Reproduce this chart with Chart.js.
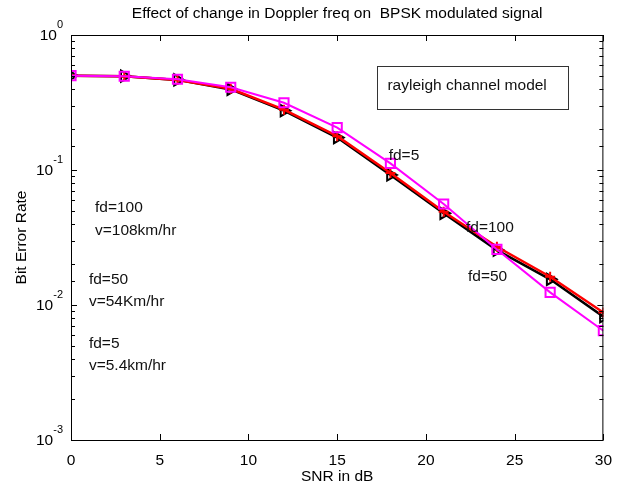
<!DOCTYPE html>
<html>
<head>
<meta charset="utf-8">
<script src="https://cdn.jsdelivr.net/npm/chart.js@4.4.1/dist/chart.umd.min.js"></script>
<style>
  html, body { margin: 0; padding: 0; background: #fff; }
  #wrap { width: 623px; height: 487px; position: relative; }
</style>
</head>
<body>
<div id="wrap"><canvas id="c" width="623" height="487"></canvas></div>
<script>
// ---- data ----
const snrDb = [0, 3, 6, 9, 12, 15, 18, 21, 24, 27, 30];
const berFd5   = [0.50, 0.495, 0.47, 0.41, 0.315, 0.206, 0.112, 0.056, 0.0258, 0.0124, 0.00645];
const berFd100 = [0.50, 0.495, 0.465, 0.40, 0.280, 0.178, 0.095, 0.049, 0.0270, 0.0162, 0.0088];
const berFd50  = [0.50, 0.495, 0.465, 0.395, 0.275, 0.174, 0.092, 0.0478, 0.0255, 0.0155, 0.0082];
const xTicks = [0, 5, 10, 15, 20, 25, 30];
const yDecades = [-3, -2, -1, 0];
const titleText = 'Effect of change in Doppler freq on  BPSK modulated signal';
const xTitle = 'SNR in dB';
const yTitle = 'Bit Error Rate';
const notes = [
  { text: 'fd=5',        x: 17.9,  y: 0.127 },
  { text: 'fd=100',      x: 22.26, y: 0.0372 },
  { text: 'fd=50',       x: 22.37, y: 0.0161 },
  { text: 'fd=100',      x: 1.35,  y: 0.0523 },
  { text: 'v=108km/hr',  x: 1.35,  y: 0.0353 },
  { text: 'fd=50',       x: 1.01,  y: 0.0153 },
  { text: 'v=54Km/hr',   x: 1.01,  y: 0.01052 },
  { text: 'fd=5',        x: 1.01,  y: 0.00514 },
  { text: 'v=5.4km/hr',  x: 1.01,  y: 0.00353 }
];
const boxNote = { text: 'rayleigh channel model', x0: 17.27, x1: 28.04, y0: 0.589, y1: 0.283, tx: 17.83, ty: 0.419 };

const pts = arr => snrDb.map((x, i) => ({ x: x, y: arr[i] }));
const FONT = '"Liberation Sans", Arial, sans-serif';
const FS = 15.5;

const decor = {
  id: 'decor',
  afterDraw(chart) {
    const ctx = chart.ctx, a = chart.chartArea;
    const xs = chart.scales.x, ys = chart.scales.y;
    ctx.save();
    // box
    ctx.strokeStyle = '#000'; ctx.lineWidth = 1;
    ctx.strokeRect(a.left + 0.5, a.top + 0.5, a.right - a.left - 1, a.bottom - a.top);
    // x ticks inward
    ctx.beginPath();
    xTicks.forEach(v => {
      const px = Math.round(xs.getPixelForValue(v)) + 0.5;
      ctx.moveTo(px, a.bottom); ctx.lineTo(px, a.bottom - 6);
      ctx.moveTo(px, a.top); ctx.lineTo(px, a.top + 6);
    });
    // y ticks inward (library ticks)
    ys.ticks.forEach(t => {
      const py = Math.round(ys.getPixelForValue(t.value)) + 0.5;
      const lg = Math.log10(t.value);
      const len = Math.abs(lg - Math.round(lg)) < 1e-6 ? 6 : 4;
      ctx.moveTo(a.left, py); ctx.lineTo(a.left + len, py);
      ctx.moveTo(a.right, py); ctx.lineTo(a.right - len, py);
    });
    ctx.stroke();
    // y labels 10^n
    ctx.fillStyle = '#000';
    yDecades.forEach(d => {
      const py = ys.getPixelForValue(Math.pow(10, d));
      const exp = String(d);
      ctx.font = '11px ' + FONT;
      ctx.textBaseline = 'middle';
      const ew = ctx.measureText(exp).width;
      ctx.textAlign = 'left';
      ctx.fillText(exp, a.left - 8 - ew, py - 10);
      ctx.font = FS + 'px ' + FONT; ctx.textAlign = 'right';
      ctx.fillText('10', a.left - 8 - ew, py + 1);
    });
    // titles
    ctx.font = FS + 'px ' + FONT; ctx.textAlign = 'center'; ctx.textBaseline = 'middle';
    ctx.fillText(titleText, (a.left + a.right) / 2, 14);
    ctx.fillText(xTitle, (a.left + a.right) / 2, 477);
    ctx.save();
    ctx.translate(22, (a.top + a.bottom) / 2);
    ctx.rotate(-Math.PI / 2);
    ctx.fillText(yTitle, 0, 0);
    ctx.restore();
    // notes
    ctx.textAlign = 'left';
    ctx.fillStyle = '#111';
    notes.forEach(n => ctx.fillText(n.text, xs.getPixelForValue(n.x), ys.getPixelForValue(n.y)));
    const bx0 = xs.getPixelForValue(boxNote.x0), bx1 = xs.getPixelForValue(boxNote.x1);
    const by0 = ys.getPixelForValue(boxNote.y0), by1 = ys.getPixelForValue(boxNote.y1);
    ctx.strokeStyle = '#333';
    ctx.strokeRect(Math.round(bx0) + 0.5, Math.round(by0) + 0.5, Math.round(bx1 - bx0), Math.round(by1 - by0));
    ctx.fillText(boxNote.text, xs.getPixelForValue(boxNote.tx), ys.getPixelForValue(boxNote.ty));
    ctx.restore();
  }
};

new Chart(document.getElementById('c'), {
  type: 'line',
  data: {
    datasets: [
      { label: 'fd=5', data: pts(berFd5), borderColor: '#ff00ff', backgroundColor: 'rgba(0,0,0,0)',
        borderWidth: 2, pointStyle: 'rect', pointRadius: 6.5, pointBorderWidth: 2, pointBorderColor: '#ff00ff' },
      { label: 'fd=100', data: pts(berFd100), borderColor: '#ff0000', backgroundColor: 'rgba(0,0,0,0)',
        borderWidth: 2.5, pointStyle: 'cross', pointRadius: 5, pointBorderWidth: 2, pointBorderColor: '#ff0000' },
      { label: 'fd=50', data: pts(berFd50), borderColor: '#000000', backgroundColor: 'rgba(0,0,0,0)',
        borderWidth: 2.5, pointStyle: 'triangle', pointRotation: 90, pointRadius: 6.5, pointBorderWidth: 2, pointBorderColor: '#000' }
    ]
  },
  options: {
    responsive: false,
    animation: false,
    events: [],
    layout: { padding: { top: 35, right: 17, left: 0, bottom: 0 } },
    plugins: { legend: { display: false }, tooltip: { enabled: false }, title: { display: false } },
    elements: { line: { tension: 0 } },
    scales: {
      x: {
        type: 'linear', min: 0, max: 30,
        grid: { display: false, drawTicks: false },
        border: { display: false },
        ticks: { stepSize: 5, color: '#000', padding: 11, font: { family: FONT, size: FS } },
        afterFit(s) { s.height = 47; }
      },
      y: {
        type: 'logarithmic', min: 0.001, max: 1,
        grid: { display: false, drawTicks: false },
        border: { display: false },
        ticks: { display: false },
        afterFit(s) { s.width = 71; }
      }
    }
  },
  plugins: [decor]
});
</script>
</body>
</html>
